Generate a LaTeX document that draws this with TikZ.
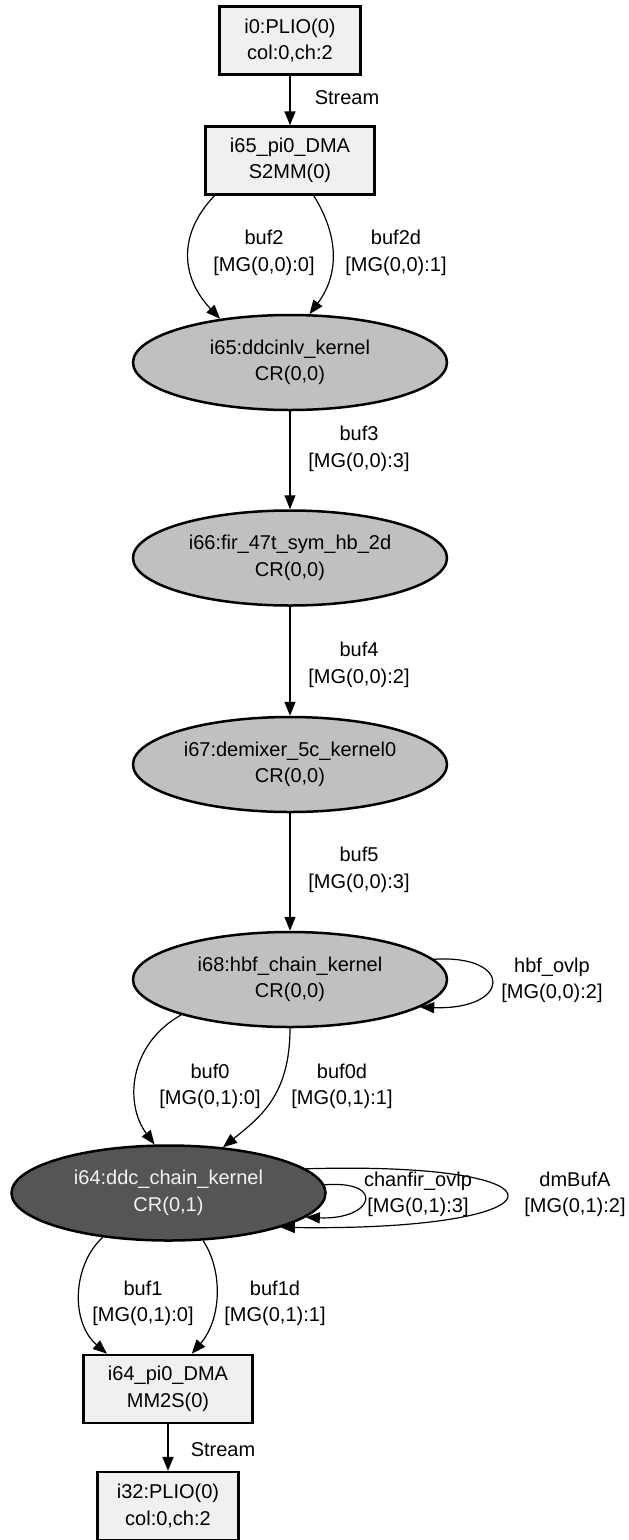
\documentclass[tikz,border=0pt]{standalone}
\usepackage{fontspec}
\setmainfont{Liberation Sans}
\usetikzlibrary{shapes.geometric,arrows.meta}
\definecolor{boxgray}{HTML}{F0F0F0}
\definecolor{kernelgray}{HTML}{C0C0C0}
\definecolor{maingray}{HTML}{555555}
\definecolor{textlight}{HTML}{F2F2F2}

\begin{document}
\begin{tikzpicture}[x=1pt,y=-1pt,
		every node/.style={font=\fontsize{20}{26.5}\selectfont, align=center},
		ioblock/.style={draw, line width=2.5pt, fill=boxgray, rectangle, minimum height=68pt, inner sep=0pt},
		kernel/.style={draw, line width=2.5pt, fill=kernelgray, ellipse, minimum width=314pt, minimum height=95pt, inner sep=0pt},
		mainkernel/.style={kernel, fill=maingray, text=textlight},
		bufedge/.style={line width=1.2pt, -{Triangle[length=14pt,width=11pt]}},
		streamedge/.style={line width=2pt, -{Triangle[length=14pt,width=11pt]}},
		edgelabel/.style={inner sep=0pt}]
	\useasboundingbox (0,0) rectangle (629,1540);

	\node[ioblock, minimum width=141pt] (plio0) at (290,40.5) {i0:PLIO(0)\\col:0,ch:2};
	\node[ioblock, minimum width=169pt] (dma0) at (290,160.5) {i65\_pi0\_DMA\\S2MM(0)};
	\node[kernel] (k65) at (290,362.5) {i65:ddcinlv\_kernel\\CR(0,0)};
	\node[kernel] (k66) at (290,558) {i66:fir\_47t\_sym\_hb\_2d\\CR(0,0)};
	\node[kernel] (k67) at (290,764.5) {i67:demixer\_5c\_kernel0\\CR(0,0)};
	\node[kernel] (k68) at (290,979.5) {i68:hbf\_chain\_kernel\\CR(0,0)};
	\node[mainkernel] (k64) at (168.5,1193) {i64:ddc\_chain\_kernel\\CR(0,1)};
	\node[ioblock, minimum width=169pt] (dma1) at (168,1389) {i64\_pi0\_DMA\\MM2S(0)};
	\node[ioblock, minimum width=141pt] (plio1) at (168,1506) {i32:PLIO(0)\\col:0,ch:2};

	\node[edgelabel] (lstream0) at (347,98) {Stream};
	\node[edgelabel] (lbuf2) at (264,253) {buf2\\{[MG(0,0):0]}};
	\node[edgelabel] (lbuf2d) at (396,253) {buf2d\\{[MG(0,0):1]}};
	\node[edgelabel] (lbuf3) at (359,449) {buf3\\{[MG(0,0):3]}};
	\node[edgelabel] (lbuf4) at (359,665) {buf4\\{[MG(0,0):2]}};
	\node[edgelabel] (lbuf5) at (359,870) {buf5\\{[MG(0,0):3]}};
	\node[edgelabel] (lhbf) at (552,980.5) {hbf\_ovlp\\{[MG(0,0):2]}};
	\node[edgelabel] (lbuf0) at (210,1086.5) {buf0\\{[MG(0,1):0]}};
	\node[edgelabel] (lbuf0d) at (342,1086.5) {buf0d\\{[MG(0,1):1]}};
	\node[edgelabel] (lchanfir) at (418,1194.5) {chanfir\_ovlp\\{[MG(0,1):3]}};
	\node[edgelabel] (ldmbuf) at (575,1194.5) {dmBufA\\{[MG(0,1):2]}};
	\node[edgelabel] (lbuf1) at (143,1303.5) {buf1\\{[MG(0,1):0]}};
	\node[edgelabel] (lbuf1d) at (275,1303.5) {buf1d\\{[MG(0,1):1]}};
	\node[edgelabel] (lstream1) at (223,1450) {Stream};

	\draw[streamedge] (plio0)--(dma0);
	\draw[bufedge] (dma0.205) .. controls +(-38,40) and +(-38,-40) .. (k65.148);
	\draw[bufedge] (dma0.304) .. controls +(25,40) and +(30,-40) .. (k65.68);
	\draw[bufedge] (k65)--(k66);
	\draw[bufedge] (k66)--(k67);
	\draw[bufedge] (k67)--(k68);
	\draw[bufedge] (k68.8) .. controls +(80,-5) and +(91,3) .. (k68.348);
	\draw[bufedge] (k68.198) .. controls +(-53,30) and +(-30,-40) .. (k64.106);
	\draw[bufedge] (k68.270) .. controls +(0,67) and +(37,-30) .. (k64.40);
	\draw[bufedge] (k64.3) .. controls +(62,-5) and +(68,3) .. (k64.350);
	\draw[bufedge] (k64.10) .. controls +(276,-8) and +(292,4) .. (k64.343);
	\draw[bufedge] (k64.214) .. controls +(-30,27) and +(-37,-32) .. (dma1.150);
	\draw[bufedge] (k64.306) .. controls +(20,30) and +(30,-35) .. (dma1.56);
	\draw[streamedge] (dma1)--(plio1);
\end{tikzpicture}
\end{document}
